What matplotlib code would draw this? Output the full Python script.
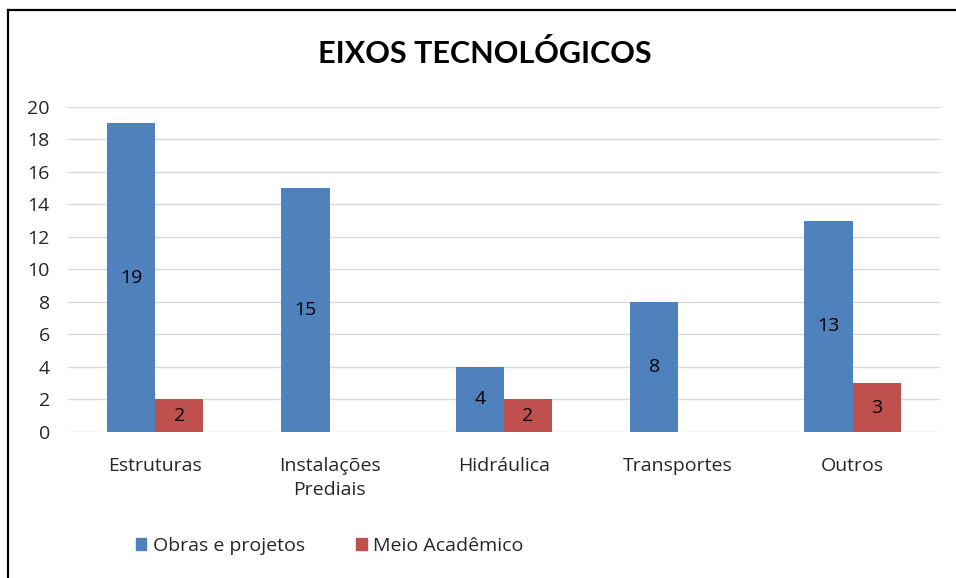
import matplotlib.pyplot as plt
import numpy as np
from matplotlib.lines import Line2D

categories = ["Estruturas", "Instalações\nPrediais", "Hidráulica", "Transportes", "Outros"]
obras = [19, 15, 4, 8, 13]
academico = [2, 0, 2, 0, 3]
yticks = list(range(0, 21, 2))

blue = "#4F81BD"
red = "#C0504D"
grid = "#D9D9D9"
text = "#262626"
fs = 14

plt.rcParams["font.family"] = ["Open Sans", "DejaVu Sans"]

fig = plt.figure(figsize=(9.56, 5.78), dpi=100)
fig.patch.set_facecolor("white")
ax = fig.add_axes([0.0711, 0.2526, 0.9119, 0.5623])

x = np.arange(len(categories))
w = 0.277
b1 = ax.bar(x - w / 2, obras, width=w, color=blue, zorder=3)
b2 = ax.bar(x + w / 2, academico, width=w, color=red, zorder=3)

for bars, vals in ((b1, obras), (b2, academico)):
    for bar, v in zip(bars, vals):
        if v == 0:
            continue
        ax.text(bar.get_x() + bar.get_width() / 2, v / 2, str(v),
                ha="center", va="center", fontsize=fs, color="black", zorder=4)

ax.set_xlim(-0.5, len(categories) - 0.5)
ax.set_ylim(0, 20)
ax.set_yticks(yticks)
ax.set_xticks(x, categories)
ax.grid(axis="y", color=grid, linewidth=1.0, zorder=0)
ax.set_axisbelow(True)
for s in ax.spines.values():
    s.set_visible(False)
ax.tick_params(axis="both", length=0, labelsize=fs, colors=text)
ax.tick_params(axis="y", pad=13)
ax.tick_params(axis="x", pad=18)
for lab in ax.get_xticklabels():
    lab.set_linespacing(1.45)

fig.text(0.507, 0.907, "EIXOS TECNOLÓGICOS", ha="center", va="center",
         family=["Lato", "DejaVu Sans"], fontsize=22, fontweight="bold", color="black")

handles = [plt.Rectangle((0, 0), 1, 1, color=blue), plt.Rectangle((0, 0), 1, 1, color=red)]
fig.legend(handles, ["Obras e projetos", "Meio Acadêmico"], loc="center",
           bbox_to_anchor=(0.345, 0.055), ncol=2, frameon=False, fontsize=fs,
           handlelength=0.55, handleheight=0.55, handletextpad=0.35, columnspacing=2.6,
           labelcolor=text)

# chart border (left and top edges visible)
fig.add_artist(Line2D([0.0084, 1.0], [0.9827, 0.9827], transform=fig.transFigure,
                      color="black", linewidth=1.6))
fig.add_artist(Line2D([0.0084, 0.0084], [0.0, 0.9827], transform=fig.transFigure,
                      color="black", linewidth=1.6))

fig.savefig("out.png", facecolor="white")
